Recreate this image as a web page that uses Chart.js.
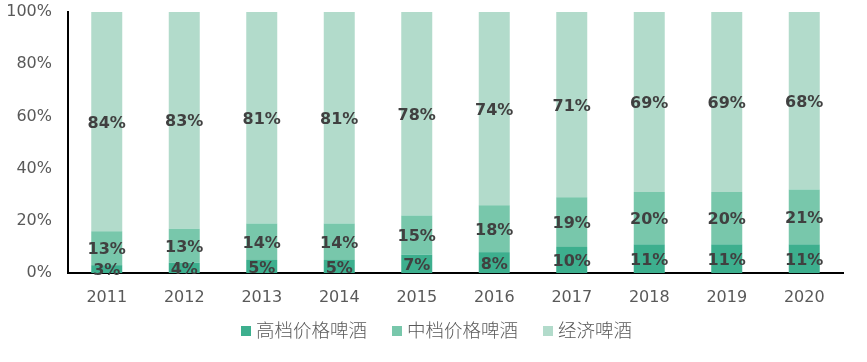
<!DOCTYPE html>
<html><head><meta charset="utf-8">
<script src="https://cdn.jsdelivr.net/npm/chart.js@4"></script>
<style>html,body{margin:0;padding:0;background:#fff}#wrap{width:867px;height:362px}</style>
</head><body><div id="wrap"><canvas id="c" width="867" height="362"></canvas></div>
<script>
const years = ['2011','2012','2013','2014','2015','2016','2017','2018','2019','2020'];
const highEnd = [3,4,5,5,7,8,10,11,11,11];
const midRange = [13,13,14,14,15,18,19,20,20,21];
const economy = [84,83,81,81,78,74,71,69,69,68];
const seriesNames = ['高档价格啤酒','中档价格啤酒','经济啤酒'];
const colors = ['#3daf8e','#78c7ab','#b2dbcb'];

const labelPlugin = {
  id: 'segLabels',
  afterDatasetsDraw(chart) {
    const ctx = chart.ctx;
    ctx.save();
    ctx.font = 'bold 16px "DejaVu Sans", sans-serif';
    ctx.fillStyle = '#404040';
    ctx.textAlign = 'center';
    ctx.textBaseline = 'middle';
    chart.data.datasets.forEach((ds, i) => {
      const meta = chart.getDatasetMeta(i);
      meta.data.forEach((bar, j) => {
        const p = bar.getProps(['x','y','base'], true);
        ctx.fillText(ds.data[j] + '%', p.x, (p.y + p.base) / 2 + 2);
      });
    });
    ctx.restore();
  }
};

const legendPlugin = {
  id: 'customLegend',
  afterDraw(chart) {
    const ctx = chart.ctx;
    ctx.save();
    ctx.font = '300 18.5px "Noto Sans CJK SC", sans-serif';
    ctx.textBaseline = 'middle';
    ctx.textAlign = 'left';
    const box = 10, gapBox = 5, gapItem = 25, yc = 330;
    const items = chart.data.datasets.map(d => ({text: d.label, color: d.backgroundColor, w: ctx.measureText(d.label).width}));
    let total = 0;
    items.forEach((it, i) => { total += box + gapBox + it.w + (i < items.length - 1 ? gapItem : 0); });
    let x = chart.width / 2 + 3 - total / 2;
    items.forEach(it => {
      ctx.fillStyle = it.color;
      ctx.fillRect(x, yc - 4, box, box);
      x += box + gapBox;
      ctx.fillStyle = '#595959';
      ctx.fillText(it.text, x, yc);
      x += it.w + gapItem;
    });
    ctx.restore();
  }
};

new Chart(document.getElementById('c'), {
  type: 'bar',
  data: {
    labels: years,
    datasets: [
      {label: seriesNames[0], data: highEnd, backgroundColor: colors[0]},
      {label: seriesNames[1], data: midRange, backgroundColor: colors[1]},
      {label: seriesNames[2], data: economy, backgroundColor: colors[2]}
    ]
  },
  options: {
    responsive: false,
    animation: false,
    devicePixelRatio: 1,
    layout: {padding: {top: 0, right: 24, left: 0, bottom: 54}},
    datasets: {bar: {barPercentage: 0.4, categoryPercentage: 1}},
    scales: {
      x: {
        stacked: true,
        afterFit(s) { s.height = 35; s.paddingLeft = 0; s.paddingRight = 0; },
        grid: {display: false, drawTicks: false},
        border: {display: true, color: '#000', width: 2},
        ticks: {color: '#595959', font: {family: '"DejaVu Sans", sans-serif', size: 16}, padding: 15}
      },
      y: {
        stacked: true,
        min: 0, max: 100,
        afterFit(s) { s.width = 68; s.paddingTop = 12; s.paddingBottom = 0; },
        grid: {display: false, drawTicks: false},
        border: {display: true, color: '#000', width: 2},
        ticks: {stepSize: 20, color: '#595959', padding: 16,
          font: {family: '"DejaVu Sans", sans-serif', size: 16},
          callback: v => v + '%'}
      }
    },
    plugins: {
      tooltip: {enabled: false},
      legend: {display: false}
    }
  },
  plugins: [labelPlugin, legendPlugin]
});
</script></body></html>
